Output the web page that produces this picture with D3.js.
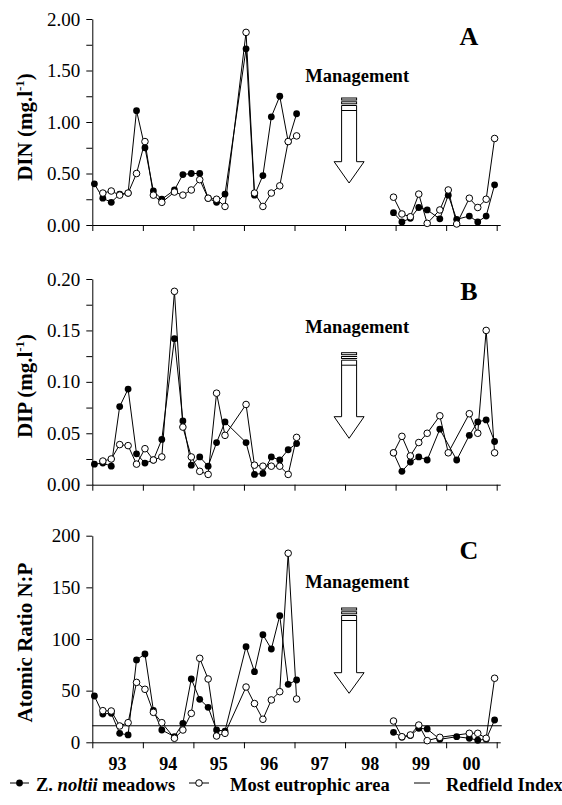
<!DOCTYPE html>
<html><head><meta charset="utf-8">
<script src="https://cdn.jsdelivr.net/npm/d3@7"></script>
<style>body{margin:0;background:#fff}</style>
</head><body><svg id="c" width="562" height="805"></svg>
<script>
// ---------- DATA ----------
const dates = ["1993-01","1993-03","1993-05","1993-07","1993-09","1993-11",
  "1994-01","1994-03","1994-05","1994-08","1994-10","1994-12",
  "1995-02","1995-04","1995-06","1995-08",
  "1996-01","1996-03","1996-05","1996-07","1996-09","1996-11","1997-01",
  "1998-12","1999-02","1999-04","1999-06","1999-08","1999-11",
  "2000-01","2000-03","2000-06","2000-08","2000-10","2000-12"];

const dinMeadow = [0.40,0.26,0.22,0.30,0.31,1.11, 0.75,0.33,0.25,0.34,0.49,0.50,
  0.50,0.26,0.22,0.30, 1.71,0.29,0.48,1.05,1.25,0.81,1.08,
  0.12,0.03,0.065,0.17,0.146,0.06, 0.29,0.055,0.087,0.03,0.087,0.39];
const dinEutrophic = [null,0.31,0.33,0.29,0.31,0.50, 0.81,0.29,0.22,0.32,0.29,0.34,
  0.44,0.26,0.25,0.18, 1.87,0.31,0.18,0.31,0.38,0.81,0.865,
  0.27,0.107,0.08,0.30,0.016,0.146, 0.34,0.01,0.26,0.17,0.25,0.84];

const dipMeadow = [0.020,0.021,0.018,0.076,0.093,0.030, 0.021,0.024,0.044,0.142,0.062,0.019,
  0.027,0.018,0.041,0.061, 0.041,0.010,0.011,0.027,0.024,0.034,0.040,
  0.031,0.013,0.022,0.027,0.024,0.054, null,0.024,0.048,0.061,0.063,0.042];
const dipEutrophic = [null,0.023,0.025,0.039,0.038,0.020, 0.035,0.024,0.027,0.188,0.056,0.027,
  0.013,0.010,0.089,0.048, 0.078,0.019,0.018,0.018,0.018,0.010,0.046,
  0.031,0.047,0.028,0.041,0.050,0.067, 0.031,null,0.069,0.050,0.150,0.031];

const npMeadow = [44.8,27.4,28.1,8.7,7.1,79.7, 85.5,31,11.9,5.5,18.4,61.3,
  41.6,33.9,11.9,10.9, 92.6,68.4,104.2,90.3,122.6,56.1,60.3,
  9.7,5,6.5,13.5,12.9,2.9, null,5.4,3.9,2.0,3.0,21.6];
const npEutrophic = [null,30.6,30.3,15.8,19,58, 51.3,29,19,3.9,11.9,28,
  81.3,61.3,6.1,8.7, 53.5,37.5,22.3,41,49,183,41.9,
  20.6,5.4,7.1,16.7,1.6,4.8, null,null,8.7,8.7,3.9,62];

const yearLabels = ["93","94","95","96","97","98","99","00"];
const yearStarts = [1993,1994,1995,1996,1997,1998,1999,2000,2001];
const redfieldIndex = 16;
const legendLabels = ["meadows","Most eutrophic area","Redfield Index"];

// ---------- LAYOUT ----------
const svg = d3.select('#c');
const FONT = '"Liberation Serif","Times New Roman",serif';
const x = d3.scaleLinear().domain([1993, 2001]).range([92.3, 496.7]);
const xAxisScale = x.copy().domain([1993, 2001.07]).range([92.3, x(2001.07)]);
const dec = s => { const [y, m] = s.split('-').map(Number); return y + (m - 0.5) / 12; };

const panels = [
  {id:'A', top:19, bottom:225, max:2, minor:0.25, major:0.5, fmt:d3.format('.2f'),
   meadow:dinMeadow, eut:dinEutrophic, title:['DIN (mg.l','-1',')'], titleY:127,
   letterY:45, mgmtY:82, arrowTop:98, headTop:161.7, tip:183},
  {id:'B', top:279, bottom:484.7, max:0.2, minor:0.025, major:0.05, fmt:d3.format('.2f'),
   meadow:dipMeadow, eut:dipEutrophic, title:['DIP (mg.l','-1',')'], titleY:386,
   letterY:300, mgmtY:332.7, arrowTop:352.7, headTop:416.7, tip:438.3},
  {id:'C', top:535.7, bottom:742.3, max:200, minor:50, major:50, fmt:d3.format('d'),
   meadow:npMeadow, eut:npEutrophic, title:['Atomic Ratio N:P'], titleY:642.5,
   letterY:559, mgmtY:588, arrowTop:608, headTop:672.7, tip:693.3, redfield:true}
];

function segments(values) {
  const pts = dates.map((d, i) => ({t: dec(d), v: values[i]}));
  const segs = []; let cur = [];
  pts.forEach((p, i) => {
    if (i > 0 && p.t - pts[i-1].t > 1) { segs.push(cur); cur = []; }
    cur.push(p);
  });
  segs.push(cur);
  return segs.map(s => s.filter(p => p.v != null));
}

panels.forEach(P => {
  const y = d3.scaleLinear().domain([0, P.max]).range([P.bottom, P.top]);
  const g = svg.append('g');

  // y axis
  const ticks = d3.range(0, P.max + P.minor / 2, P.minor);
  const isMajor = v => Math.abs(v / P.major - Math.round(v / P.major)) < 1e-6;
  const ya = g.append('g').attr('transform', 'translate(92.3,0)')
    .call(d3.axisLeft(y).tickValues(ticks).tickSize(6).tickSizeOuter(0).tickPadding(6)
      .tickFormat(v => isMajor(v) ? P.fmt(v) : ''));
  ya.selectAll('text').attr('font-family', FONT).attr('font-size', 19).attr('fill', '#000');
  ya.selectAll('line,path').attr('stroke', '#000').attr('stroke-width', 1);

  // x axis
  const xa = g.append('g').attr('transform', `translate(0,${P.bottom})`)
    .call(d3.axisBottom(xAxisScale).tickValues(yearStarts).tickSize(6).tickSizeOuter(0).tickFormat(''));
  xa.selectAll('line,path').attr('stroke', '#000').attr('stroke-width', 1);

  // y title
  const tt = g.append('text').attr('transform', `translate(32,${P.titleY}) rotate(-90)`)
    .attr('text-anchor', 'middle').attr('font-family', FONT).attr('font-weight', 'bold')
    .attr('font-size', 21).attr('fill', '#000');
  tt.append('tspan').text(P.title[0]);
  if (P.title.length > 1) {
    tt.append('tspan').attr('font-size', 13).attr('dy', -8).text(P.title[1]);
    tt.append('tspan').attr('dy', 8).text(P.title[2]);
  }

  // Redfield
  if (P.redfield) {
    g.append('line').attr('x1', x(1993)).attr('x2', x(2001.1))
      .attr('y1', y(redfieldIndex)).attr('y2', y(redfieldIndex))
      .attr('stroke', '#000').attr('stroke-width', 1);
  }

  // lines
  const line = d3.line().x(d => x(d.t)).y(d => y(d.v));
  [P.meadow, P.eut].forEach(vals => {
    segments(vals).forEach(seg => {
      g.append('path').attr('d', line(seg)).attr('fill', 'none')
        .attr('stroke', '#000').attr('stroke-width', 1);
    });
  });
  // markers
  const flat = vals => dates.map((d, i) => ({t: dec(d), v: vals[i]})).filter(p => p.v != null);
  g.selectAll('.m').data(flat(P.meadow)).join('circle')
    .attr('cx', d => x(d.t)).attr('cy', d => y(d.v)).attr('r', 3.4).attr('fill', '#000');
  g.selectAll('.e').data(flat(P.eut)).join('circle')
    .attr('cx', d => x(d.t)).attr('cy', d => y(d.v)).attr('r', 3.3)
    .attr('fill', '#fff').attr('stroke', '#000').attr('stroke-width', 1);

  // letter
  g.append('text').attr('x', 469).attr('y', P.letterY).attr('text-anchor', 'middle')
    .attr('font-family', FONT).attr('font-weight', 'bold').attr('font-size', 26).text(P.id);

  // Management
  g.append('text').attr('x', x(1998.24)).attr('y', P.mgmtY).attr('text-anchor', 'middle')
    .attr('font-family', FONT).attr('font-weight', 'bold').attr('font-size', 18.5).text('Management');

  // arrow
  const cx = x(1998.08), hw = 7.5, hh = 15, t0 = P.arrowTop;
  const ag = g.append('g').attr('fill', '#fff').attr('stroke', '#000').attr('stroke-width', 1);
  ag.append('rect').attr('x', cx - hw).attr('y', t0).attr('width', 2 * hw).attr('height', 2);
  ag.append('rect').attr('x', cx - hw).attr('y', t0 + 3.8).attr('width', 2 * hw).attr('height', 2);
  const s0 = t0 + 7.5;
  ag.append('path').attr('d',
    `M${cx-hw},${s0}L${cx+hw},${s0}L${cx+hw},${P.headTop}L${cx+hh},${P.headTop}L${cx},${P.tip}L${cx-hh},${P.headTop}L${cx-hw},${P.headTop}Z`);
  ag.append('line').attr('x1', cx - hw).attr('x2', cx + hw).attr('y1', s0 + 5).attr('y2', s0 + 5);

  // year labels on bottom panel
  if (P.id === 'C') {
    g.selectAll('.yl').data(yearLabels).join('text')
      .attr('x', (d, i) => x(yearStarts[i] + 0.5)).attr('y', 769.5).attr('text-anchor', 'middle')
      .attr('font-family', FONT).attr('font-weight', 'bold').attr('font-size', 18).text(d => d);
  }
});

// ---------- LEGEND ----------
const lg = svg.append('g').attr('font-family', FONT).attr('font-weight', 'bold').attr('font-size', 18.5);
const ly = 783, tb = 790.5;
lg.append('line').attr('x1', 10).attr('x2', 29).attr('y1', ly).attr('y2', ly).attr('stroke', '#000');
lg.append('circle').attr('cx', 19.5).attr('cy', ly).attr('r', 3.4).attr('fill', '#000');
const t1 = lg.append('text').attr('x', 36).attr('y', tb);
t1.append('tspan').text('Z. ');
t1.append('tspan').attr('font-style', 'italic').text('noltii');
t1.append('tspan').text(' ' + legendLabels[0]);
lg.append('line').attr('x1', 189).attr('x2', 209).attr('y1', ly).attr('y2', ly).attr('stroke', '#000');
lg.append('circle').attr('cx', 199).attr('cy', ly).attr('r', 3.3).attr('fill', '#fff').attr('stroke', '#000');
lg.append('text').attr('x', 230).attr('y', tb).text(legendLabels[1]);
lg.append('line').attr('x1', 414).attr('x2', 430).attr('y1', ly).attr('y2', ly).attr('stroke', '#000');
lg.append('text').attr('x', 446).attr('y', tb).text(legendLabels[2]);
</script></body></html>
